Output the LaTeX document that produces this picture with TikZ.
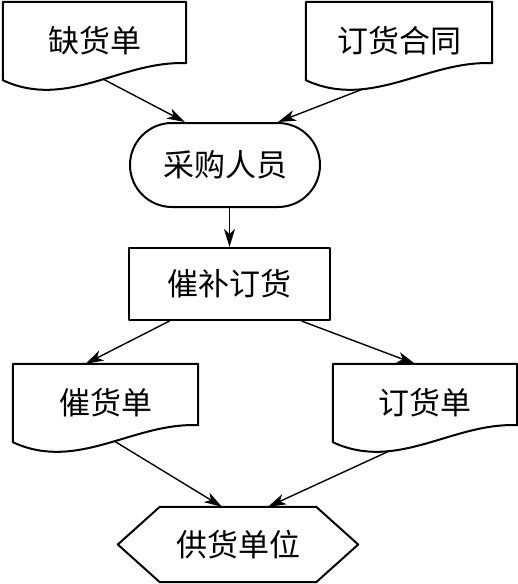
\documentclass[tikz,border=0pt]{standalone}
\usepackage{fontspec}
\newfontfamily\cjk{Noto Sans CJK SC}
\usetikzlibrary{arrows.meta,positioning,calc}

% outline of a document symbol round a docbox node
\newcommand\docwave[1]{%
  \draw[outline] (#1.south west)
    .. controls ($(#1.south west)!0.35!(#1.south east)+(0,-30pt)$)
            and ($(#1.south west)!0.65!(#1.south east)+(0,20pt)$)
    .. coordinate[pos=0.3] (#1-a) coordinate[pos=0.55] (#1-b)
       ([yshift=17pt]#1.south east)
    -- (#1.north east) -- (#1.north west) -- cycle;}

\begin{document}
\begin{tikzpicture}[
  x=1pt, y=-1pt,
  txt/.style={inner sep=0pt, font=\cjk\fontsize{31}{31}\selectfont},
  docbox/.style={txt, minimum width=#1, minimum height=78pt},
  outline/.style={line width=2pt, line join=round},
  stadium/.style={txt, outline, draw, rounded corners=42pt, minimum width=190pt, minimum height=84pt},
  procbox/.style={txt, outline, draw, minimum width=201pt, minimum height=72pt},
  arr/.style={-{Stealth[length=18pt, width=11pt, inset=5pt]}, line width=1.4pt}
]
  \useasboundingbox (0,0) rectangle (518,584);

  \node[docbox=183pt] (shortage) at (94.5, 41) {缺货单};
  \node[docbox=186pt] (contract) at (399, 41) {订货合同};
  \docwave{shortage}
  \docwave{contract}

  \node[stadium] (buyer) at (225, 165) {采购人员};
  \node[procbox] (urge) at (229.5, 284) {催补订货};

  \node[docbox=185pt] (reminder) at (105.5, 403) {催货单};
  \node[docbox=184pt] (order) at (425, 403) {订货单};
  \docwave{reminder}
  \docwave{order}

  \node[txt, minimum width=240pt, minimum height=75pt] (supplier) at (238, 544.5) {供货单位};
  \draw[outline] (supplier.west) -- ([xshift=42pt]supplier.north west)
    -- ([xshift=-42pt]supplier.north east) -- (supplier.east)
    -- ([xshift=-42pt]supplier.south east) -- ([xshift=42pt]supplier.south west) -- cycle;

  \draw[arr] (shortage-b) -- ($(buyer.north)+(-40pt,0)$);
  \draw[arr] (contract-a) -- ($(buyer.north)+(53pt,0)$);
  \draw[arr] (urge.north |- buyer.south) -- (urge.north);
  \draw[arr] ($(urge.south)+(-60pt,0)$) -- ($(reminder.north)+(-20pt,0)$);
  \draw[arr] ($(urge.south)+(72pt,0)$) -- ($(order.north)+(-10pt,0)$);
  \draw[arr] (reminder-b) -- ($(supplier.north)+(-16pt,0)$);
  \draw[arr] (order-a) -- ($(supplier.north)+(30pt,0)$);
\end{tikzpicture}
\end{document}
